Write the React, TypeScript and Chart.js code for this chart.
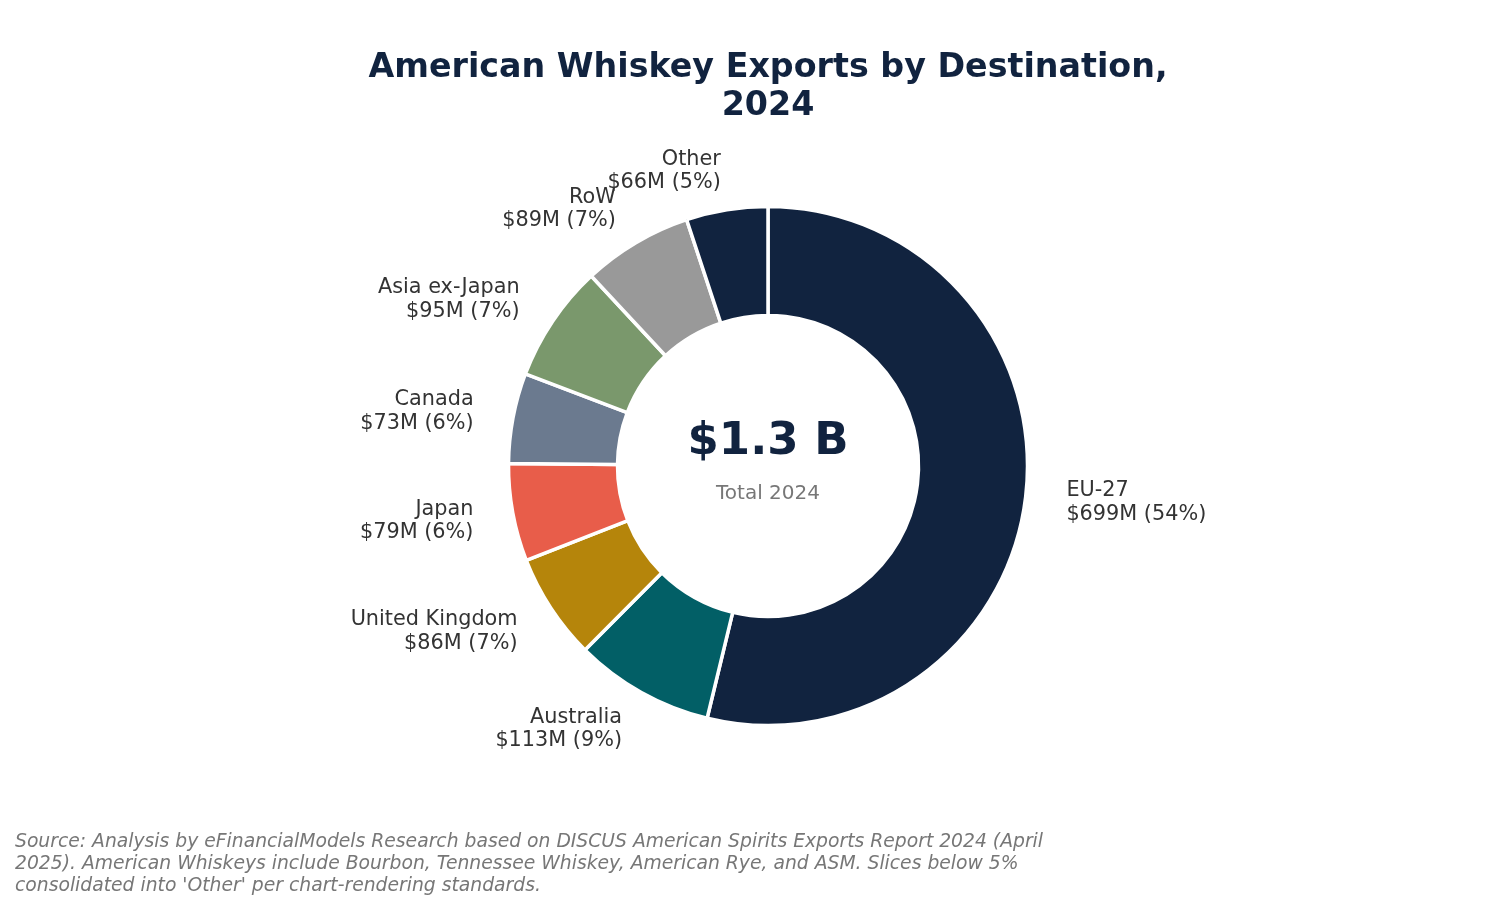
import React, { useEffect, useRef } from 'react';
import { Chart, registerables } from 'chart.js';

Chart.register(...registerables);

const categories = ['EU-27', 'Australia', 'United Kingdom', 'Japan', 'Canada', 'Asia ex-Japan', 'RoW', 'Other'];
const values = [699, 113, 86, 79, 73, 95, 89, 66];
const colors = ['#11233f', '#025f66', '#b5850b', '#e85d4a', '#6b7a8f', '#7a986c', '#999999', '#11233f'];
const titleLines = ['American Whiskey Exports by Destination,', '2024'];
const centerValue = '$1.3 B';
const centerLabel = 'Total 2024';
const sourceLines = [
  'Source: Analysis by eFinancialModels Research based on DISCUS American Spirits Exports Report 2024 (April',
  "2025). American Whiskeys include Bourbon, Tennessee Whiskey, American Rye, and ASM. Slices below 5%",
  "consolidated into 'Other' per chart-rendering standards.",
];

const FONT = '"DejaVu Sans", "Liberation Sans", sans-serif';

const textPlugin = {
  id: 'textPlugin',
  afterDraw(chart: any) {
    const ctx = chart.ctx as CanvasRenderingContext2D;
    const meta = chart.getDatasetMeta(0);
    const total = values.reduce((a, b) => a + b, 0);
    ctx.save();

    // Title
    ctx.fillStyle = '#11233f';
    ctx.font = `bold 33.3px ${FONT}`;
    ctx.textAlign = 'center';
    ctx.textBaseline = 'middle';
    titleLines.forEach((line, i) => ctx.fillText(line, 768, 68 + i * 38));

    // Slice labels
    ctx.fillStyle = '#333333';
    ctx.font = `20.8px ${FONT}`;
    meta.data.forEach((arc: any, i: number) => {
      const p = arc.getProps(['x', 'y', 'startAngle', 'endAngle', 'outerRadius'], true);
      const mid = (p.startAngle + p.endAngle) / 2;
      const r = p.outerRadius * 1.156;
      const lx = p.x + 0.5 + Math.cos(mid) * r;
      const ly = p.y + 0.5 + Math.sin(mid) * r;
      ctx.textAlign = lx >= p.x ? 'left' : 'right';
      ctx.textBaseline = 'middle';
      const pct = Math.round((values[i] / total) * 100);
      ctx.fillText(categories[i], lx, ly - 11);
      ctx.fillText(`$${values[i]}M (${pct}%)`, lx, ly + 12.5);
    });

    // Center text
    const c = meta.data[0];
    const cx = c.x;
    const cy = c.y;
    ctx.textAlign = 'center';
    ctx.textBaseline = 'middle';
    ctx.fillStyle = '#11233f';
    ctx.font = `bold 45px ${FONT}`;
    ctx.fillText(centerValue, cx, cy - 24);
    ctx.fillStyle = '#777777';
    ctx.font = `20px ${FONT}`;
    ctx.fillText(centerLabel, cx, cy + 28);

    // Source note
    ctx.fillStyle = '#777777';
    ctx.font = `italic 18.75px ${FONT}`;
    ctx.textAlign = 'left';
    sourceLines.forEach((line, i) => ctx.fillText(line, 15, 842 + i * 22));

    ctx.restore();
  },
};

export default function App() {
  const canvasRef = useRef<HTMLCanvasElement>(null);

  useEffect(() => {
    const canvas = canvasRef.current;
    if (!canvas) return;
    const chart = new Chart(canvas, {
      type: 'doughnut',
      data: {
        labels: categories,
        datasets: [
          {
            data: values,
            backgroundColor: colors,
            borderColor: '#ffffff',
            borderWidth: 3.5,
          },
        ],
      },
      options: {
        responsive: false,
        animation: false,
        devicePixelRatio: 1,
        events: [],
        radius: 259.5,
        cutout: '58%',
        layout: { padding: { left: 36, top: 32, right: 0, bottom: 0 } },
        plugins: {
          legend: { display: false },
          title: { display: false },
          tooltip: { enabled: false },
        },
      } as any,
      plugins: [textPlugin],
    });
    return () => chart.destroy();
  }, []);

  return (
    <div style={{ position: 'absolute', left: 0, top: 0, width: 1500, height: 900, background: '#ffffff' }}>
      <canvas ref={canvasRef} width={1500} height={900} />
    </div>
  );
}
